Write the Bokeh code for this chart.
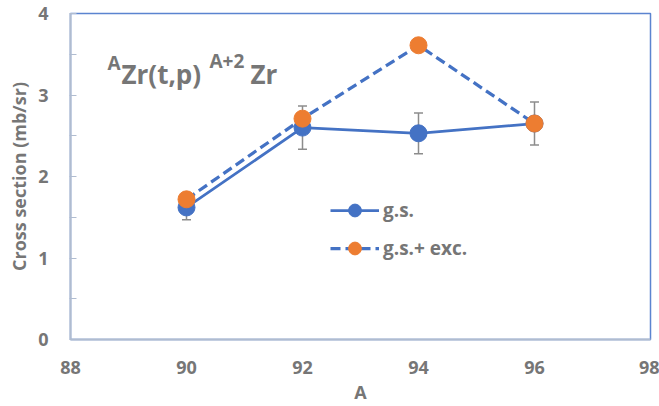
from bokeh.plotting import figure
from bokeh.models import (ColumnDataSource, Whisker, TeeHead, Label, Legend, LegendItem,
                          FixedTicker, Range1d)
from bokeh.embed import file_html
from bokeh.resources import INLINE

# ---- data ----
mass_A = [90, 92, 94, 96]
gs_xs = [1.62, 2.60, 2.53, 2.65]
gs_err = [0.15, 0.265, 0.25, 0.265]
gs_exc_xs = [1.72, 2.71, 3.61, 2.65]
x_ticks = [88, 90, 92, 94, 96, 98]
y_ticks = [0, 1, 2, 3, 4]
y_minor = [0.5, 1.5, 2.5, 3.5]

BLUE = "#4472C4"
ORANGE = "#ED7D31"
GREY = "#767676"
AXIS = "#B0BCD0"
FONT = "Open Sans"

src = ColumnDataSource(dict(
    x=mass_A, gs=gs_xs, exc=gs_exc_xs,
    lo=[v - e for v, e in zip(gs_xs, gs_err)],
    hi=[v + e for v, e in zip(gs_xs, gs_err)],
))

p = figure(width=659, height=406, output_backend="svg", toolbar_location=None,
           x_range=Range1d(88, 98), y_range=Range1d(0, 4),
           min_border_left=70, min_border_right=9, min_border_top=13, min_border_bottom=67)
p.xgrid.visible = False
p.ygrid.visible = False
p.outline_line_color = "#5B84D0"
p.outline_line_width = 1.5
p.background_fill_color = "white"
p.border_fill_color = "white"

for ax in (p.xaxis[0], p.yaxis[0]):
    ax.axis_line_color = AXIS
    ax.axis_line_width = 2
    ax.major_label_text_font = FONT
    ax.major_label_text_font_style = "bold"
    ax.major_label_text_font_size = "18px"
    ax.major_label_text_color = GREY
    ax.axis_label_text_font = FONT
    ax.axis_label_text_font_style = "bold"
    ax.axis_label_text_font_size = "18px"
    ax.axis_label_text_color = GREY

p.xaxis.ticker = FixedTicker(ticks=x_ticks)
p.xaxis.major_tick_in = 0
p.xaxis.major_tick_out = 0
p.xaxis.minor_tick_in = 0
p.xaxis.minor_tick_out = 0
p.xaxis.major_label_standoff = 21
p.xaxis.axis_label = "A"
p.xaxis.axis_label_standoff = 3

p.yaxis.ticker = FixedTicker(ticks=y_ticks, minor_ticks=y_minor)
p.yaxis.major_tick_in = 6
p.yaxis.major_tick_out = 1
p.yaxis.minor_tick_in = 6
p.yaxis.minor_tick_out = 1
p.yaxis.major_tick_line_color = AXIS
p.yaxis.minor_tick_line_color = AXIS
p.yaxis.major_label_standoff = 21
p.yaxis.axis_label = "Cross section (mb/sr)"
p.yaxis.axis_label_standoff = 4

# error bars
wh = Whisker(source=src, base="x", upper="hi", lower="lo",
             line_color="#8C8C8C", line_width=1.5,
             upper_head=TeeHead(size=9, line_color="#8C8C8C", line_width=1.5),
             lower_head=TeeHead(size=9, line_color="#8C8C8C", line_width=1.5))
p.add_layout(wh)

l1 = p.line("x", "gs", source=src, line_color=BLUE, line_width=2.75)
m1 = p.scatter("x", "gs", source=src, size=17, fill_color=BLUE, line_color=BLUE)
l2 = p.line("x", "exc", source=src, line_color=BLUE, line_width=3.25, line_dash="10 5")
m2 = p.scatter("x", "exc", source=src, size=17, fill_color=ORANGE, line_color=ORANGE)

legend = Legend(items=[LegendItem(label="g.s.", renderers=[l1, m1]),
                       LegendItem(label="g.s.+ exc.", renderers=[l2, m2])],
                location=(260, 75), orientation="vertical",
                glyph_width=49, glyph_height=32, label_height=32, spacing=6,
                padding=0, margin=0, label_standoff=4,
                border_line_color=None, background_fill_alpha=0,
                label_text_font=FONT, label_text_font_style="bold",
                label_text_font_size="19px", label_text_color=GREY)
p.add_layout(legend)

# title pieces (superscripts as separate texts)
def lab(txt, x, y, size):
    p.add_layout(Label(x=x, y=y, x_units="screen", y_units="screen", text=txt,
                       text_font=FONT, text_font_style="bold", text_font_size=size,
                       text_color=GREY, text_baseline="alphabetic"))

lab("A", 37, 277, "19px")
lab("Zr(t,p)", 51, 266, "26px")
lab("A+2", 139, 279, "19px")
lab("Zr", 180, 266, "26px")

open("out.html", "w").write(file_html(p, INLINE))
